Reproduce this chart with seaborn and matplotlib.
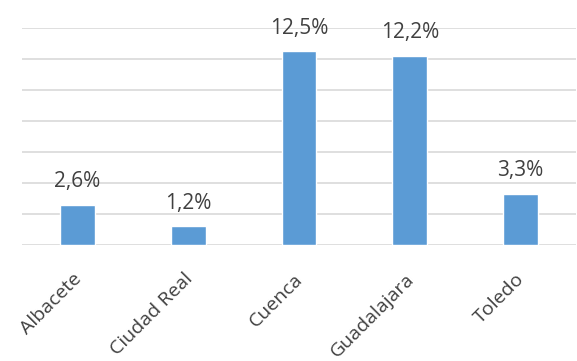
import matplotlib
matplotlib.use("Agg")
import matplotlib.pyplot as plt
import matplotlib.transforms as mtransforms
import seaborn as sns
import pandas as pd

categories = ["Albacete", "Ciudad Real", "Cuenca", "Guadalajara", "Toledo"]
values = [2.6, 1.2, 12.5, 12.2, 3.3]
labels = ["2,6%", "1,2%", "12,5%", "12,2%", "3,3%"]

sns.set_theme(style="white")
plt.rcParams["font.family"] = ["Open Sans", "DejaVu Sans"]

df = pd.DataFrame({"cat": categories, "val": values})

fig = plt.figure(figsize=(5.77, 3.61), dpi=100)
ax = fig.add_axes([22/577, 1 - 245/361, (576-22)/577, (245-28)/361])

sns.barplot(data=df, x="cat", y="val", color="#5B9BD5", width=0.315,
            saturation=1, ax=ax, zorder=3)

ax.set_ylim(0, 14)
ax.set_yticks(range(0, 15, 2))
ax.yaxis.grid(True, color="#D9D9D9", linewidth=1.2, zorder=0)
ax.set_axisbelow(True)
ax.tick_params(axis="y", left=False, labelleft=False)
ax.tick_params(axis="x", bottom=False, pad=12)
for s in ["top", "right", "left", "bottom"]:
    ax.spines[s].set_visible(False)
ax.set_xlabel("")
ax.set_ylabel("")
ax.set_xlim(-0.5, 4.5)

offset = mtransforms.ScaledTranslation(-5/100, 0, fig.dpi_scale_trans)
for t in ax.get_xticklabels():
    t.set_rotation(45)
    t.set_ha("right")
    t.set_va("top")
    t.set_rotation_mode("anchor")
    t.set_fontsize(14)
    t.set_color("#404040")
    t.set_transform(t.get_transform() + offset)

for i, (v, lab) in enumerate(zip(values, labels)):
    ax.annotate(lab, (i, v), xytext=(0, 9), textcoords="offset points",
                ha="center", va="bottom", fontsize=15, color="#404040")

fig.savefig("out.png", dpi=100)
